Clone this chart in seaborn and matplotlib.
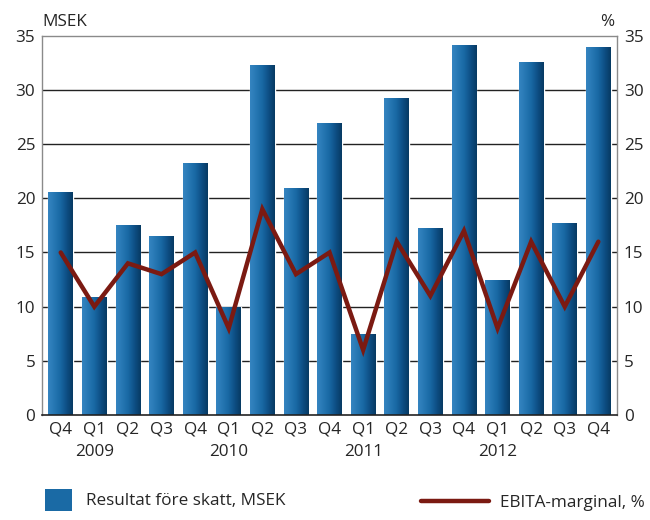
import numpy as np
import pandas as pd
import matplotlib.pyplot as plt
import seaborn as sns
from matplotlib.colors import LinearSegmentedColormap
from matplotlib.patches import Patch
from matplotlib.lines import Line2D

# data
quarters = ['Q4', 'Q1', 'Q2', 'Q3', 'Q4', 'Q1', 'Q2', 'Q3', 'Q4',
            'Q1', 'Q2', 'Q3', 'Q4', 'Q1', 'Q2', 'Q3', 'Q4']
years = ['', '2009', '', '', '', '2010', '', '', '',
         '2011', '', '', '', '2012', '', '', '']
resultat = [20.6, 10.9, 17.5, 16.5, 23.3, 10.0, 32.3, 21.0, 27.0,
            7.5, 29.3, 17.3, 34.2, 12.5, 32.6, 17.7, 34.0]
ebita = [15, 10, 14, 13, 15, 8, 19, 13, 15, 6, 16, 11, 17, 8, 16, 10, 16]

labels = [q + '\n' + y for q, y in zip(quarters, years)]
df = pd.DataFrame({'pos': range(len(quarters)), 'resultat': resultat, 'ebita': ebita})

sns.set_style('white')
plt.rcParams['font.family'] = ['Open Sans', 'DejaVu Sans']
fs = 12.3

fig = plt.figure(figsize=(6.5, 5.2), dpi=100)
ax = fig.add_axes([0.065, 0.202, 0.884, 0.729])

sns.barplot(data=df, x='pos', y='resultat', color='#1a6aa5', width=0.74,
            ax=ax, zorder=2)

# cylinder-like gradient on the bars
grad_cmap = LinearSegmentedColormap.from_list(
    'bar', ['#3584c0', '#2677b3', '#1868a3', '#0e4f85', '#073a63'])
grad = np.linspace(0, 1, 64).reshape(1, -1)
for p in ax.patches:
    x0, y0 = p.get_x(), p.get_y()
    w, h = p.get_width(), p.get_height()
    im = ax.imshow(grad, cmap=grad_cmap, aspect='auto',
                   extent=[x0, x0 + w, y0, y0 + h], zorder=2.1)
    im.set_clip_path(p)

ax.plot(df['pos'], df['ebita'], color='#7b1a12', lw=3.2, zorder=3,
        solid_joinstyle='miter')

ax.set_xlim(-0.55, len(quarters) - 0.45)
ax.set_ylim(0, 35)
ax.set_yticks(range(0, 36, 5))
ax.set_xticks(range(len(quarters)))
ax.set_xticklabels(labels, fontsize=fs, linespacing=1.5)
ax.set_xlabel('')
ax.set_ylabel('')
ax.tick_params(axis='y', labelsize=fs, length=0, pad=5)
ax.tick_params(axis='x', length=0, pad=5)
ax.set_xticks(np.arange(0.5, len(quarters) - 1, 1), minor=True)
ax.tick_params(axis='x', which='minor', direction='in', length=5,
               width=1, color='#222222')

for y in range(5, 35, 5):
    ax.axhline(y, color='#222222', lw=1, zorder=1)

for s in ['left', 'right', 'top']:
    ax.spines[s].set_color('#8a8a8a')
    ax.spines[s].set_linewidth(1)
ax.spines['bottom'].set_color('#222222')
ax.spines['bottom'].set_linewidth(1.2)

ax2 = ax.twinx()
ax2.set_ylim(0, 35)
ax2.set_yticks(range(0, 36, 5))
ax2.tick_params(axis='y', labelsize=fs, length=0, pad=5)
for s in ax2.spines.values():
    s.set_visible(False)

fig.text(0.065, 0.943, 'MSEK', fontsize=fs, ha='left', va='bottom')
fig.text(0.945, 0.943, '%', fontsize=fs, ha='right', va='bottom')

fig.legend(handles=[Patch(facecolor='#1a6aa5', edgecolor='none')],
           labels=['Resultat före skatt, MSEK'], loc='lower left',
           bbox_to_anchor=(0.045, -0.012), frameon=False, fontsize=fs,
           handlelength=1.6, handleheight=1.6, handletextpad=0.8)
fig.legend(handles=[Line2D([], [], color='#7b1a12', lw=3.2)],
           labels=['EBITA-marginal, %'], loc='lower right',
           bbox_to_anchor=(1.015, -0.012), frameon=False, fontsize=fs,
           handlelength=4.0, handletextpad=0.6)

fig.savefig('out.png', dpi=100)
